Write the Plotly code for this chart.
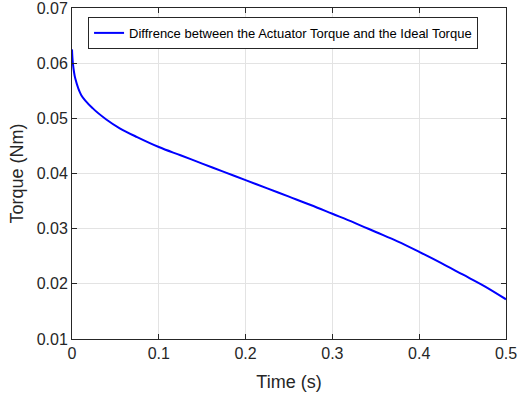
import plotly.graph_objects as go

time_s = [0, 0.001, 0.0038, 0.0107, 0.024, 0.0395, 0.055, 0.075, 0.1, 0.125, 0.15,
          0.175, 0.2, 0.225, 0.25, 0.275, 0.3, 0.325, 0.35, 0.375, 0.4, 0.425,
          0.45, 0.475, 0.5]
torque_diff = [0.0625, 0.0600, 0.0572, 0.0542, 0.0518, 0.0498, 0.0482, 0.0466, 0.0448, 0.0433, 0.0418,
               0.0403, 0.0388, 0.0373, 0.0358, 0.0343, 0.0327, 0.0311, 0.0294, 0.0277, 0.0258, 0.0238,
               0.0217, 0.0196, 0.0172]
series_name = "Diffrence between the Actuator Torque and the Ideal Torque"
x_ticks = [0, 0.1, 0.2, 0.3, 0.4, 0.5]
x_tick_labels = ["0", "0.1", "0.2", "0.3", "0.4", "0.5"]
y_ticks = [0.01, 0.02, 0.03, 0.04, 0.05, 0.06, 0.07]
y_tick_labels = ["0.01", "0.02", "0.03", "0.04", "0.05", "0.06", "0.07"]

FONT = "Liberation Sans, Arial, sans-serif"

fig = go.Figure()
fig.add_trace(go.Scatter(
    x=time_s, y=torque_diff, mode="lines", name=series_name,
    line=dict(color="#0000ff", width=2, shape="spline", smoothing=1.0),
    showlegend=True,
))

axis_common = dict(
    showline=True, linecolor="#262626", linewidth=1, mirror="ticks",
    ticks="inside", ticklen=5, tickcolor="#262626",
    showgrid=True, gridcolor="#e3e3e3", gridwidth=1,
    zeroline=False, automargin=False, ticklabeloverflow="allow",
    tickfont=dict(family=FONT, size=16, color="#262626"),
)

fig.update_layout(
    width=518, height=400,
    margin=dict(l=72, r=12, t=8, b=61),
    paper_bgcolor="white", plot_bgcolor="white",
    font=dict(family=FONT, color="#262626"),
    xaxis=dict(range=[0, 0.5], tickvals=x_ticks, ticktext=x_tick_labels,
               title=dict(text="Time (s)", font=dict(family=FONT, size=18, color="#262626"), standoff=14),
               **axis_common),
    yaxis=dict(range=[0.01, 0.07], tickvals=y_ticks, ticktext=y_tick_labels,
               title=dict(text="Torque (Nm)", font=dict(family=FONT, size=18, color="#262626"), standoff=8),
               **axis_common),
    legend=dict(x=0.037, y=0.973, xanchor="left", yanchor="top",
                bgcolor="white", bordercolor="#262626", borderwidth=1,
                font=dict(family=FONT, size=13, color="black"),
                itemwidth=30, tracegroupgap=0),
    showlegend=True,
)

fig.write_html("out.html", config={"displayModeBar": False},
               post_script="document.body.style.margin='0';document.body.style.overflow='hidden';")
